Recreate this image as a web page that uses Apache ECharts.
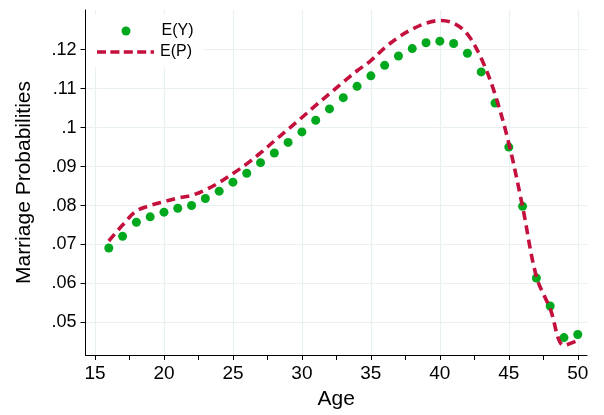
<!DOCTYPE html>
<html>
<head>
<meta charset="utf-8">
<script src="https://cdn.jsdelivr.net/npm/echarts@6/dist/echarts.min.js"></script>
<style>html,body{margin:0;padding:0;background:#fff}#c{width:604px;height:415px}</style>
</head>
<body>
<div id="c"></div>
<script>
const ages = [16,17,18,19,20,21,22,23,24,25,26,27,28,29,30,31,32,33,34,35,36,37,38,39,40,41,42,43,44,45,46,47,48,49,50];
const eY = [0.0691,0.0721,0.0757,0.0771,0.0783,0.0793,0.0800,0.0818,0.0837,0.0860,0.0883,0.0910,0.0935,0.0962,0.0989,0.1019,0.1048,0.1077,0.1106,0.1133,0.1160,0.1184,0.1203,0.1218,0.1222,0.1216,0.1191,0.1143,0.1063,0.0950,0.0798,0.0614,0.0542,0.0461,0.0469];
const eP = [0.0709,0.0750,0.0786,0.0800,0.0810,0.0819,0.0826,0.0840,0.0859,0.0882,0.0907,0.0935,0.0966,0.0996,0.1026,0.1057,0.1087,0.1117,0.1146,0.1172,0.1205,0.1232,0.1253,0.1268,0.1275,0.1268,0.1240,0.1178,0.1086,0.0960,0.0797,0.0618,0.0535,0.0441,0.0454];
const xTicks = [15,20,25,30,35,40,45,50];
const xMinorTicks = [17.5,22.5,27.5,32.5,37.5,42.5,47.5];
const yTicks = [0.05,0.06,0.07,0.08,0.09,0.10,0.11,0.12];
const seriesNames = ['E(Y)','E(P)'];

const FONT = '"Liberation Sans", Arial, Helvetica, sans-serif';
const GRID_COLOR = '#e8f0f2';
const GREEN = '#00a81e';
const RED = '#c4103c';
const DASH = [9, 5.5];
// legend icon: a short dashed line (path with four full dashes and one partial)
const DASH_ICON = 'path://M0,0h9v3.6h-9z M13.4,0h9v3.6h-9z M26.8,0h9v3.6h-9z M40.2,0h9v3.6h-9z M53.6,0h3.4v3.6h-3.4z';
const chart = echarts.init(document.getElementById('c'), null, {renderer:'canvas'});
const fmtY = v => String(+v.toFixed(2)).replace(/^0\./, '.');

chart.setOption({
  animation: false,
  backgroundColor: '#fff',
  textStyle: {fontFamily: FONT},
  grid: {left: 85.5, right: 17, top: 10, bottom: 59, containLabel: false},
  legend: [
    {data: [{name: seriesNames[0], icon: 'circle'}], orient: 'vertical', left: 86, top: 15,
     padding: [8, 11, 2, 35.5], backgroundColor: '#fff', itemWidth: 9, itemHeight: 9,
     itemStyle: {color: GREEN, opacity: 1},
     formatter: n => '{g|}' + n,
     textStyle: {fontSize: 16, color: '#000', fontFamily: FONT, rich: {g: {width: 26}}}},
    {data: [{name: seriesNames[1], icon: DASH_ICON}], orient: 'vertical', left: 86, top: 41,
     padding: [3, 11, 7, 11], backgroundColor: '#fff', itemWidth: 57, itemHeight: 3.6,
     itemStyle: {color: RED, borderWidth: 0},
     formatter: n => '{g|}' + n,
     textStyle: {fontSize: 16, color: '#000', fontFamily: FONT, rich: {g: {width: 1}}}}
  ],
  xAxis: [
    {type: 'value', min: 14.31, max: 50.67, name: 'Age', nameLocation: 'middle', nameGap: 34,
     nameTextStyle: {fontSize: 21, color: '#000', fontFamily: FONT},
     axisLine: {show: true, onZero: false, lineStyle: {color: '#000', width: 1}},
     axisTick: {show: true, length: 5, customValues: xTicks, lineStyle: {color: '#000'}},
     axisLabel: {show: true, customValues: xTicks, fontSize: 19, color: '#000', margin: 9, fontFamily: FONT},
     splitLine: {show: true, lineStyle: {color: GRID_COLOR, width: 1.2}}},
    {type: 'value', min: 14.31, max: 50.67, position: 'bottom', offset: 0,
     axisLine: {show: false},
     axisTick: {show: true, length: 5, customValues: xMinorTicks, lineStyle: {color: '#000'}},
     axisLabel: {show: false},
     splitLine: {show: false}}
  ],
  yAxis: [
    {type: 'value', min: 0.04163, max: 0.1302, name: 'Marriage Probabilities', nameLocation: 'middle', nameGap: 51,
     nameTextStyle: {fontSize: 21, color: '#000', fontFamily: FONT},
     axisLine: {show: true, onZero: false, lineStyle: {color: '#000', width: 1}},
     axisTick: {show: true, length: 5, customValues: yTicks, lineStyle: {color: '#000'}},
     axisLabel: {show: true, customValues: yTicks, fontSize: 18, color: '#000', margin: 9, formatter: fmtY, fontFamily: FONT},
     splitLine: {show: true, lineStyle: {color: GRID_COLOR, width: 1.2}}}
  ],
  series: [
    {name: seriesNames[0], type: 'scatter', xAxisIndex: 0, yAxisIndex: 0, z: 3,
     data: ages.map((a, i) => [a, eY[i]]), symbol: 'circle', symbolSize: 9,
     itemStyle: {color: GREEN, opacity: 1}},
    {name: seriesNames[1], type: 'line', xAxisIndex: 0, yAxisIndex: 0, z: 4,
     data: ages.map((a, i) => [a, eP[i]]), showSymbol: false, symbol: 'none', smooth: 0.35,
     lineStyle: {color: RED, width: 3.6, type: DASH, cap: 'butt'},
     itemStyle: {color: RED}}
  ]
});
</script>
</body>
</html>
